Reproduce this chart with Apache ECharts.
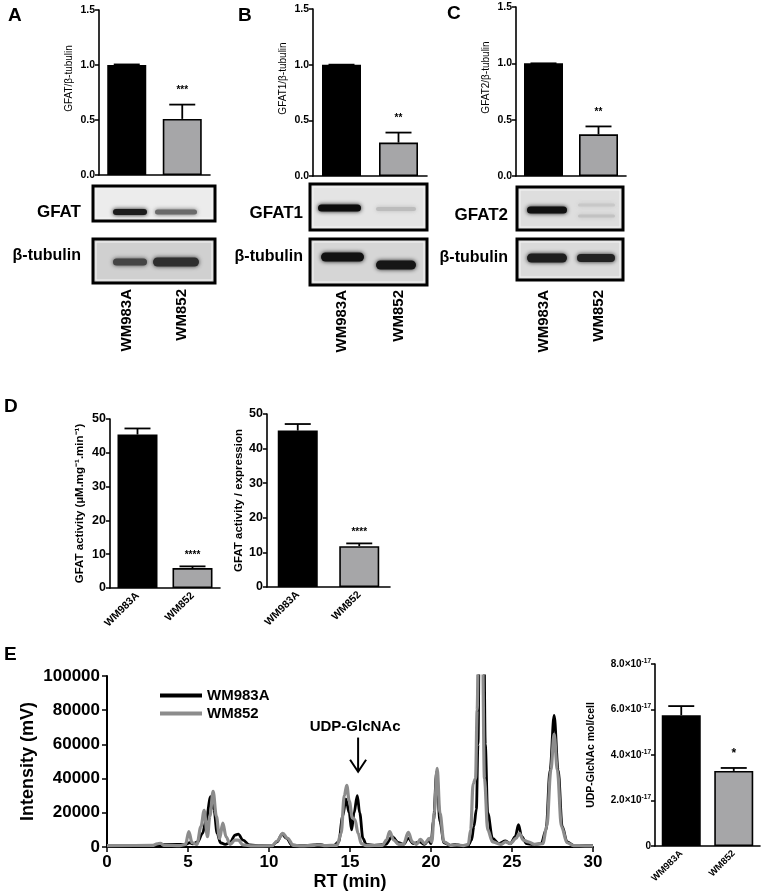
<!DOCTYPE html>
<html>
<head>
<meta charset="utf-8">
<script src="https://cdn.jsdelivr.net/npm/echarts@6/dist/echarts.min.js"></script>
<style>
  html, body { margin: 0; padding: 0; background: #fff; }
  #main { width: 765px; height: 892px; }
</style>
</head>
<body>
<div id="main"></div>
<script>
const FONT = '"Liberation Sans", Arial, sans-serif'

// --- data ---
const cellLines = ['WM983A', 'WM852']

const gfatRatio = [1.0, 0.51]
const gfatRatioErr = [0.005, 0.13]
const gfatStars = ['', '***']

const gfat1Ratio = [1.0, 0.30]
const gfat1RatioErr = [0, 0.09]
const gfat1Stars = ['', '**']

const gfat2Ratio = [1.0, 0.37]
const gfat2RatioErr = [0, 0.07]
const gfat2Stars = ['', '**']

const gfatActivity = [45.4, 5.9]
const gfatActivityErr = [1.8, 0.5]
const gfatActivityPerExpr = [45.2, 11.8]
const gfatActivityPerExprErr = [1.9, 0.8]
const activityStars = ['', '****']

const udpGlcNAc = [5.75e-17, 3.3e-17]
const udpGlcNAcErr = [0.4e-17, 0.13e-17]
const udpStars = ['', '*']

// chromatograms: [RT (min), intensity (mV)]
const wm983aTrace = [
  [0, 800], [2, 900], [3, 1000], [3.5, 1400], [4.5, 1500], [4.9, 1600], [5.1, 2500], [5.3, 1800],
  [5.6, 3000], [5.9, 8000], [6.1, 15000], [6.4, 29500], [6.6, 22000], [6.8, 8000], [7.0, 2500],
  [7.3, 1500], [7.6, 2500], [7.9, 7000], [8.1, 7500], [8.4, 4000], [8.8, 1200], [9.5, 800],
  [10.2, 900], [10.5, 3000], [10.8, 7500], [11.1, 5000], [11.4, 1200], [12, 800], [12.8, 1200],
  [13.1, 1500], [13.4, 900], [14.0, 1000], [14.3, 3000], [14.55, 18000], [14.75, 28000],
  [14.95, 20000], [15.1, 10000], [15.25, 20000], [15.45, 30000], [15.6, 20000], [15.8, 5000],
  [16.0, 1500], [16.5, 1000], [17.2, 1500], [17.6, 6000], [18.0, 2500], [18.3, 1500], [18.6, 5000],
  [18.9, 2000], [19.3, 3000], [19.6, 1500], [19.85, 4000], [20.0, 2000], [20.15, 15000],
  [20.35, 44000], [20.55, 15000], [20.8, 2500], [21.2, 1000], [21.5, 1500], [21.8, 1000],
  [22.3, 1000], [22.5, 4000], [22.65, 12000], [22.8, 22000], [22.9, 60000], [23.0, 140000],
  [23.25, 140000], [23.35, 60000], [23.5, 20000], [23.8, 5000], [24.2, 2000], [24.6, 3500],
  [24.9, 2000], [25.2, 6000], [25.4, 13000], [25.6, 6000], [25.9, 2000], [26.3, 1500], [26.8, 2000],
  [27.1, 10000], [27.35, 45000], [27.6, 77000], [27.85, 45000], [28.1, 12000], [28.4, 3000],
  [28.8, 1000], [29.5, 800], [30, 800]
]
const wm852Trace = [
  [0, 800], [2.8, 900], [3.1, 1800], [3.3, 2200], [3.5, 1000], [4.5, 800], [4.85, 1500],
  [5.05, 9000], [5.25, 2500], [5.55, 1500], [5.8, 12000], [6.0, 21500], [6.2, 6000], [6.35, 18000],
  [6.55, 32500], [6.75, 18000], [6.95, 5000], [7.15, 14000], [7.35, 6000], [7.6, 1500], [7.9, 4000],
  [8.1, 4000], [8.4, 1200], [9, 600], [10.2, 800], [10.5, 3500], [10.85, 8000], [11.15, 5000],
  [11.5, 1000], [12, 600], [12.8, 1000], [13.1, 1300], [13.4, 800], [14.2, 1000], [14.45, 8000],
  [14.65, 30000], [14.8, 36000], [14.95, 27000], [15.15, 17000], [15.3, 16000], [15.5, 8000],
  [15.7, 2000], [16.0, 800], [17.0, 1000], [17.25, 4000], [17.45, 9000], [17.7, 4000], [18.0, 1500],
  [18.3, 1500], [18.6, 8500], [18.85, 3000], [19.1, 1500], [19.35, 4500], [19.6, 2000], [19.9, 5000],
  [20.05, 3000], [20.2, 20000], [20.38, 46000], [20.55, 20000], [20.8, 3000], [21.2, 1000],
  [21.6, 1200], [22.0, 800], [22.3, 1500], [22.45, 10000], [22.6, 37000], [22.75, 40000],
  [22.85, 80000], [22.95, 140000], [23.15, 140000], [23.3, 40000], [23.5, 10000], [23.8, 3000],
  [24.3, 1500], [24.6, 3000], [24.9, 2000], [25.25, 5000], [25.45, 8000], [25.7, 4000], [26.0, 3000],
  [26.4, 1500], [26.9, 2000], [27.15, 12000], [27.4, 45000], [27.6, 66000], [27.8, 45000],
  [28.05, 12000], [28.4, 2500], [28.8, 800], [29.5, 700], [30, 700]
]
const udpPeakRT = 15.5
const udpArrow = [udpPeakRT, 64000, 44000]
const udpLabelY = 70000

// --- layout ---
const grids = [
  { left: 99, top: 10, width: 111, height: 165 },   // A
  { left: 313, top: 9, width: 114, height: 167 },   // B
  { left: 516, top: 7, width: 110, height: 169 },   // C
  { left: 110, top: 419, width: 110, height: 169 }, // D left
  { left: 267, top: 414, width: 123, height: 173 }, // D right
  { left: 107, top: 676, width: 486, height: 173 }, // E chromatogram
  { left: 655, top: 664, width: 105, height: 182 }  // E bar
]

const barColors = ['#000000', '#a6a6a8']
const axisLine = { lineStyle: { color: '#000', width: 1.6 } }

const barPanel = (gi, means, errs, stars, cfg) => {
  const xAxis = {
    type: 'category', gridIndex: gi, data: cellLines,
    axisLine, axisTick: { alignWithLabel: true, length: 4, lineStyle: { color: '#000', width: 1.5 } },
    axisLabel: {
      rotate: cfg.rotate, margin: cfg.labelMargin, color: '#000',
      fontFamily: FONT, fontWeight: 'bold', fontSize: cfg.xFont
    }
  }
  const yAxis = {
    type: 'value', gridIndex: gi, min: 0, max: cfg.max, interval: cfg.interval,
    axisLine: { show: true, lineStyle: { color: '#000', width: 1.6 } },
    axisTick: { show: true, length: 4, lineStyle: { color: '#000', width: 1.5 } },
    splitLine: { show: false },
    axisLabel: {
      margin: 4, color: '#000', fontFamily: FONT, fontWeight: 'bold', fontSize: cfg.yFont,
      formatter: cfg.fmt, rich: cfg.rich
    },
    name: cfg.name, nameLocation: 'middle', nameGap: cfg.nameGap,
    nameTextStyle: {
      fontFamily: FONT, fontSize: cfg.nameFont, fontWeight: cfg.nameWeight || 'bold', color: '#000',
      padding: cfg.namePad || 0
    }
  }
  const bars = {
    type: 'bar', xAxisIndex: gi, yAxisIndex: gi, barWidth: cfg.barWidth,
    data: means.map((v, i) => ({ value: v, itemStyle: { color: barColors[i] } })),
    itemStyle: { borderColor: '#000', borderWidth: 1.6 },
    silent: true
  }
  const err = {
    type: 'custom', xAxisIndex: gi, yAxisIndex: gi, z: 3, silent: true,
    data: means.map((v, i) => [i, v, v + errs[i]]),
    renderItem: (params, api) => {
      const i = api.value(0)
      const lo = api.coord([i, api.value(1)])
      const hi = api.coord([i, api.value(2)])
      const half = cfg.capHalf
      const children = [
        { type: 'line', shape: { x1: lo[0], y1: lo[1], x2: hi[0], y2: hi[1] }, style: { stroke: '#000', lineWidth: 1.8 } },
        { type: 'line', shape: { x1: hi[0] - half, y1: hi[1], x2: hi[0] + half, y2: hi[1] }, style: { stroke: '#000', lineWidth: 1.8 } }
      ]
      const s = stars[params.dataIndex]
      if (s) {
        children.push({
          type: 'text',
          style: {
            text: s, x: hi[0], y: hi[1] - cfg.starGap, align: 'center', verticalAlign: 'bottom',
            font: `bold ${cfg.starFont}px ${FONT}`, fill: '#000'
          }
        })
      }
      return { type: 'group', children }
    }
  }
  return { xAxis, yAxis, series: [bars, err] }
}

const blotCfg = {
  rotate: 90, labelMargin: 114, xFont: 15, max: 1.5, interval: 0.5, yFont: 10.5,
  fmt: v => v.toFixed(1), nameGap: 25, nameFont: 10, nameWeight: 'normal', namePad: [0, 0, 0, 28],
  barWidth: 39, capHalf: 13, starGap: 9, starFont: 10
}
const dCfg = {
  rotate: 45, labelMargin: 6, xFont: 10.5, max: 50, interval: 10, yFont: 12.5,
  fmt: v => String(v), nameFont: 11.5, barWidth: 40, capHalf: 13, starGap: 6, starFont: 10
}

const panels = [
  barPanel(0, gfatRatio, gfatRatioErr, gfatStars, { ...blotCfg, name: 'GFAT/β-tubulin' }),
  barPanel(1, gfat1Ratio, gfat1RatioErr, gfat1Stars, { ...blotCfg, name: 'GFAT1/β-tubulin' }),
  barPanel(2, gfat2Ratio, gfat2RatioErr, gfat2Stars, { ...blotCfg, name: 'GFAT2/β-tubulin' }),
  barPanel(3, gfatActivity, gfatActivityErr, activityStars, { ...dCfg, name: 'GFAT activity (µM.mg⁻¹.min⁻¹)', nameGap: 24 }),
  barPanel(4, gfatActivityPerExpr, gfatActivityPerExprErr, activityStars, { ...dCfg, name: 'GFAT activity / expression', nameGap: 22 })
]

// E: chromatogram axes
const chromX = {
  type: 'value', gridIndex: 5, min: 0, max: 30, interval: 5,
  axisLine: { lineStyle: { color: '#000', width: 2 } },
  axisTick: { show: true, length: 5, lineStyle: { color: '#000', width: 1.5 } },
  splitLine: { show: false },
  axisLabel: { margin: 7, color: '#000', fontFamily: FONT, fontWeight: 'bold', fontSize: 17, formatter: v => String(v) },
  name: 'RT (min)', nameLocation: 'middle', nameGap: 26,
  nameTextStyle: { fontFamily: FONT, fontWeight: 'bold', fontSize: 18, color: '#000' }
}
const chromY = {
  type: 'value', gridIndex: 5, min: 0, max: 100000, interval: 20000,
  axisLine: { show: true, lineStyle: { color: '#000', width: 2 } },
  axisTick: { show: true, length: 5, lineStyle: { color: '#000', width: 1.5 } },
  splitLine: { show: false },
  axisLabel: { margin: 7, color: '#000', fontFamily: FONT, fontWeight: 'bold', fontSize: 17, formatter: v => String(v) },
  name: 'Intensity (mV)', nameLocation: 'middle', nameGap: 70, nameMoveOverlap: false,
  nameTextStyle: { fontFamily: FONT, fontWeight: 'bold', fontSize: 18, color: '#000' }
}

const udpPanel = barPanel(6, udpGlcNAc, udpGlcNAcErr, udpStars, {
  rotate: 45, labelMargin: 6, xFont: 9.5, max: 8e-17, interval: 2e-17, yFont: 10,
  fmt: v => (v === 0 ? '0' : `{m|${(v / 1e-17).toFixed(1)}×10}{s|-17}`),
  rich: {
    m: { fontFamily: FONT, fontWeight: 'bold', fontSize: 10, color: '#000' },
    s: { fontFamily: FONT, fontWeight: 'bold', fontSize: 6.5, color: '#000', padding: [0, 0, 6, 0] }
  },
  name: 'UDP-GlcNAc mol/cell', nameGap: 58, nameFont: 10.5,
  barWidth: 39, capHalf: 13, starGap: 8, starFont: 12
})

const traceSeries = (name, data, color, width) => ({
  type: 'line', name, xAxisIndex: 5, yAxisIndex: 5, data, symbol: 'none',
  smooth: 0.35, smoothMonotone: 'x', clip: true, silent: true,
  lineStyle: { color, width }, itemStyle: { color }
})

const annotation = {
  type: 'custom', xAxisIndex: 5, yAxisIndex: 5, z: 5, silent: true,
  data: [udpArrow.concat([udpLabelY])],
  renderItem: (params, api) => {
    const top = api.coord([api.value(0), api.value(1)])
    const tip = api.coord([api.value(0), api.value(2)])
    const lab = api.coord([api.value(0), api.value(3)])
    return {
      type: 'group', children: [
        { type: 'line', shape: { x1: top[0], y1: top[1], x2: tip[0], y2: tip[1] }, style: { stroke: '#000', lineWidth: 2 } },
        { type: 'polyline', shape: { points: [[tip[0] - 8, tip[1] - 12], [tip[0], tip[1]], [tip[0] + 8, tip[1] - 12]] }, style: { stroke: '#000', lineWidth: 2, fill: null } },
        { type: 'text', style: { text: 'UDP-GlcNAc', x: lab[0] - 3, y: lab[1], align: 'center', verticalAlign: 'middle', font: `bold 15px ${FONT}`, fill: '#000' } }
      ]
    }
  }
}

// --- decorations: panel letters, western blot images ---
const txt = (text, x, y, size, align) => ({
  type: 'text', x, y,
  style: { text, font: `bold ${size}px ${FONT}`, fill: '#000', align: align || 'left', verticalAlign: 'middle' }
})

const blot = (x, y, w, h, fill, bands) => ({
  type: 'group', x, y,
  children: [
    { type: 'rect', shape: { x: 0, y: 0, width: w, height: h }, style: { fill, stroke: '#000', lineWidth: 3 } },
    { type: 'rect', shape: { x: 3, y: 3, width: w - 6, height: h - 6 }, style: { fill: null, stroke: '#f4f4f4', lineWidth: 1 } }
  ].concat(bands.map(b => ({
    type: 'rect', shape: { x: b[0] - x, y: b[2] - y - b[4] / 2, width: b[1] - b[0], height: b[4], r: b[4] / 2 },
    style: { fill: b[3], shadowBlur: 4, shadowColor: b[3] }
  })))
})

const graphics = [
  txt('A', 8, 16, 19), txt('B', 238, 16, 19), txt('C', 447, 14, 19),
  txt('D', 4, 407, 19), txt('E', 4, 655, 19),
  txt('GFAT', 81, 212, 17, 'right'), txt('β-tubulin', 81, 256, 16, 'right'),
  txt('GFAT1', 303, 213, 17, 'right'), txt('β-tubulin', 303, 257, 16, 'right'),
  txt('GFAT2', 508, 215, 17, 'right'), txt('β-tubulin', 508, 258, 16, 'right'),
  blot(93, 186, 122, 35, '#ececec', [[113, 147, 212, '#1c1c1c', 6], [155, 197, 212, '#6a6a6a', 5]]),
  blot(93, 239, 122, 44, '#d0d0d0', [[113, 147, 262, '#454545', 7], [153, 199, 262, '#2e2e2e', 9]]),
  blot(310, 184, 117, 46, '#e4e4e4', [[318, 361, 208, '#0d0d0d', 7], [376, 416, 209, '#bcbcbc', 4]]),
  blot(310, 239, 117, 46, '#d6d6d6', [[321, 364, 257, '#111', 9], [376, 416, 265, '#161616', 9]]),
  blot(517, 187, 106, 43, '#dedede', [[527, 567, 210, '#111', 7], [578, 615, 205, '#c8c8c8', 3], [578, 615, 216, '#c2c2c2', 3]]),
  blot(517, 239, 106, 41, '#dadada', [[527, 567, 258, '#1e1e1e', 9], [577, 615, 258, '#222', 8]])
]

const chart = echarts.init(document.getElementById('main'))
chart.setOption({
  animation: false,
  backgroundColor: '#fff',
  textStyle: { fontFamily: FONT },
  grid: grids,
  legend: {
    data: [
      { name: 'WM983A', icon: 'rect', itemStyle: { color: '#000' } },
      { name: 'WM852', icon: 'rect', itemStyle: { color: '#8c8c8c' } }
    ],
    orient: 'vertical', left: 155, top: 683,
    itemWidth: 42, itemHeight: 4, itemGap: 3,
    textStyle: { fontFamily: FONT, fontWeight: 'bold', fontSize: 15, color: '#000' }
  },
  xAxis: panels.map(p => p.xAxis).concat([chromX, udpPanel.xAxis]),
  yAxis: panels.map(p => p.yAxis).concat([chromY, udpPanel.yAxis]),
  series: panels.flatMap(p => p.series).concat([
    traceSeries('WM983A', wm983aTrace, '#000', 2.8),
    traceSeries('WM852', wm852Trace, '#8c8c8c', 3.2),
    annotation
  ], udpPanel.series),
  graphic: graphics
})
</script>
</body>
</html>
